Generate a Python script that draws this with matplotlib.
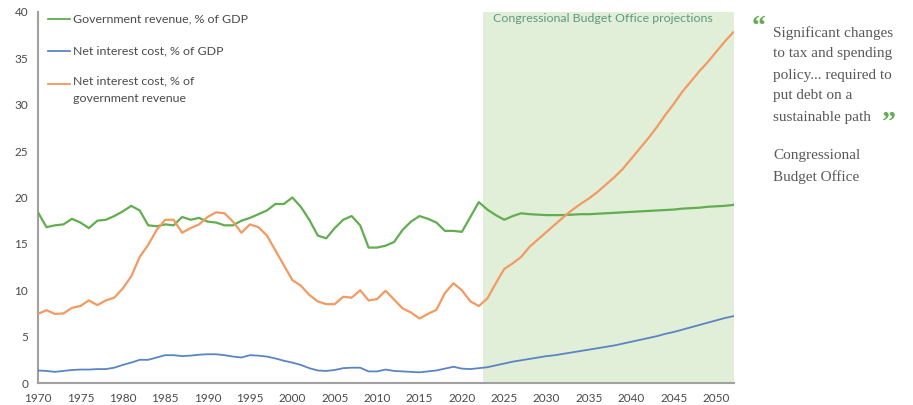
import numpy as np
import matplotlib.pyplot as plt

plt.rcParams['font.family'] = ['Lato', 'DejaVu Sans']

years = list(range(1970, 2053))

revenue_gdp = [
    18.4, 16.8, 17.0, 17.1, 17.7, 17.3, 16.7, 17.5, 17.6, 18.0,  # 1970s
    18.5, 19.1, 18.6, 17.0, 16.9, 17.1, 17.0, 17.9, 17.6, 17.8,  # 1980s
    17.4, 17.3, 17.0, 17.0, 17.5, 17.8, 18.2, 18.6, 19.3, 19.3,  # 1990s
    20.0, 19.0, 17.6, 15.9, 15.6, 16.7, 17.6, 18.0, 17.0, 14.6,  # 2000s
    14.6, 14.8, 15.2, 16.5, 17.4, 18.0, 17.7, 17.3, 16.4, 16.4,  # 2010s
    16.3, 17.9, 19.5, 18.7, 18.1, 17.6, 18.0, 18.3, 18.2, 18.15,  # 2020s
    18.1, 18.1, 18.1, 18.15, 18.2, 18.2, 18.25, 18.3, 18.35, 18.4,  # 2030s
    18.45, 18.5, 18.55, 18.6, 18.65, 18.7, 18.8, 18.85, 18.9, 19.0,  # 2040s
    19.05, 19.1, 19.2,
]

interest_gdp = [
    1.35, 1.3, 1.2, 1.3, 1.4, 1.45, 1.45, 1.5, 1.5, 1.65,
    1.95, 2.2, 2.5, 2.5, 2.75, 3.0, 3.0, 2.9, 2.95, 3.05,
    3.1, 3.1, 3.0, 2.85, 2.75, 3.0, 2.95, 2.85, 2.65, 2.4,
    2.2, 1.95, 1.6, 1.35, 1.3, 1.4, 1.6, 1.65, 1.65, 1.25,
    1.25, 1.45, 1.3, 1.25, 1.2, 1.15, 1.25, 1.35, 1.55, 1.75,
    1.55, 1.5, 1.6, 1.7, 1.9, 2.1, 2.3, 2.45, 2.6, 2.75,
    2.9, 3.0, 3.15, 3.3, 3.45, 3.6, 3.75, 3.9, 4.05, 4.25,
    4.45, 4.65, 4.85, 5.05, 5.3, 5.5, 5.75, 6.0, 6.25, 6.5,
    6.75, 7.0, 7.2,
]

interest_revenue = [
    7.45, 7.85, 7.45, 7.5, 8.1, 8.3, 8.9, 8.4, 8.9, 9.2,
    10.2, 11.5, 13.6, 14.9, 16.5, 17.6, 17.6, 16.2, 16.7, 17.1,
    17.9, 18.4, 18.3, 17.4, 16.2, 17.1, 16.8, 15.9, 14.3, 12.7,
    11.1, 10.5, 9.5, 8.8, 8.5, 8.5, 9.3, 9.2, 10.0, 8.9,
    9.05, 9.95, 9.0, 8.05, 7.6, 6.95, 7.45, 7.9, 9.7, 10.75,
    10.0, 8.8, 8.3, 9.1, 10.75, 12.3, 12.9, 13.6, 14.7, 15.5,
    16.3, 17.1, 17.9, 18.65, 19.3, 19.9, 20.6, 21.4, 22.2, 23.1,
    24.2, 25.3, 26.4, 27.6, 28.9, 30.1, 31.4, 32.5, 33.6, 34.6,
    35.7, 36.8, 37.8,
]

projection_start = 2022.5
projection_end = 2052.1

GREEN = '#62ad4f'
BLUE = '#5b84c4'
ORANGE = '#f29a62'
TEXT = '#4a4a4a'
QUOTE = '#585858'

W, H = 913, 405

fig = plt.figure(figsize=(W / 100, H / 100), dpi=100)
ax = fig.add_axes([38 / W, 22 / H, 696 / W, 371 / H])

ax.axvspan(projection_start, projection_end, color='#e1efd9', zorder=0, lw=0)
ax.plot(years, revenue_gdp, color=GREEN, lw=1.6, zorder=3)
ax.plot(years, interest_gdp, color=BLUE, lw=1.3, zorder=3)
ax.plot(years, interest_revenue, color=ORANGE, lw=1.6, zorder=3)

ax.set_xlim(1970, projection_end)
ax.set_ylim(0, 40)
ax.set_xticks(range(1970, 2051, 5))
ax.set_yticks(range(0, 41, 5))
ax.tick_params(length=0, labelsize=8.5, labelcolor=TEXT, pad=7)
for side in ['top', 'right']:
    ax.spines[side].set_visible(False)
for side in ['left', 'bottom']:
    ax.spines[side].set_color('#a0a0a0')
    ax.spines[side].set_linewidth(1.5)

# hand-made legend in the top left corner
legend_items = [
    ('Government revenue, % of GDP', GREEN, 0.981),
    ('Net interest cost, % of GDP', BLUE, 0.895),
    ('Net interest cost, % of\ngovernment revenue', ORANGE, 0.806),
]
for label, color, y in legend_items:
    ax.plot([0.0144, 0.046], [y, y], transform=ax.transAxes, color=color, lw=1.3, clip_on=False)
    ax.text(0.050, y + (0.022 if '\n' in label else 0), label, transform=ax.transAxes,
            fontsize=8.9, color=TEXT, va='top' if '\n' in label else 'center',
            linespacing=1.7)

fig.text(493 / W, 1 - 19 / H, 'Congressional Budget Office projections', fontsize=8.9,
         color='#5d9a7c', va='center')

# quote on the right
quote_x = 773 / W
fig.text(752 / W, 1 - 27 / H, '\u201c', fontsize=20, color=GREEN, fontweight='bold',
         family='Liberation Serif', va='center')
quote_lines = ['Significant changes', 'to tax and spending', 'policy... required to',
               'put debt on a', 'sustainable path']
for i, line in enumerate(quote_lines):
    fig.text(quote_x, 1 - (33 + i * 21) / H, line, fontsize=11, color=QUOTE,
             family='Liberation Serif', va='center')
fig.text(882 / W, 1 - 123 / H, '\u201d', fontsize=20, color=GREEN, fontweight='bold',
         family='Liberation Serif', va='center')
fig.text(quote_x, 1 - 156 / H, 'Congressional', fontsize=11, color=QUOTE,
         family='Liberation Serif', va='center')
fig.text(quote_x, 1 - 177 / H, 'Budget Office', fontsize=11, color=QUOTE,
         family='Liberation Serif', va='center')

fig.savefig('out.png', dpi=100)
